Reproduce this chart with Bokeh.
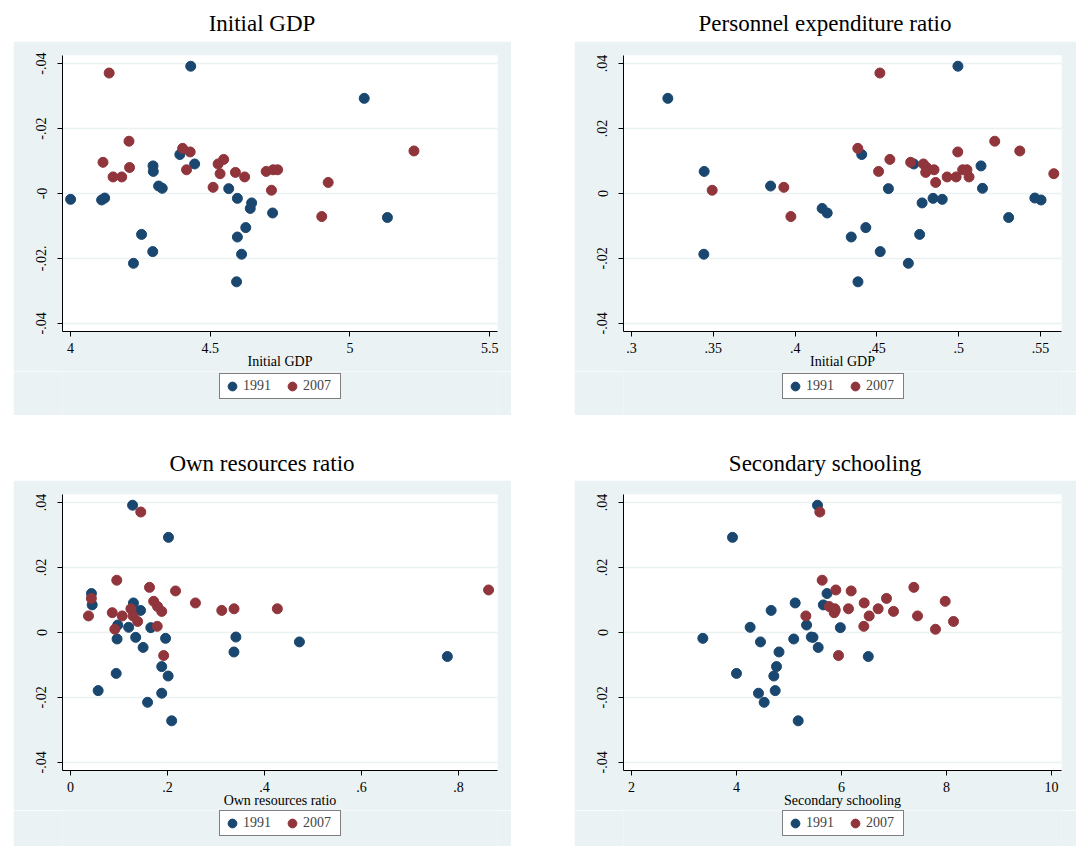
from bokeh.plotting import figure
from bokeh.models import Range1d, FixedTicker, Legend, LegendItem, Div
from bokeh.core.properties import value
from bokeh.layouts import column, row
from bokeh.embed import file_html
from bokeh.resources import INLINE

# ---------------- data ----------------
# residual growth (y) shared by every panel, one entry per region
y_1991 = [0.0392, 0.0293, 0.0120, 0.0091, 0.0085, 0.0068, 0.0023, 0.0016, 0.0015,
          -0.0014, -0.0015, -0.0018, -0.0020, -0.0029, -0.0046, -0.0060, -0.0074,
          -0.0105, -0.0126, -0.0134, -0.0179, -0.0187, -0.0215, -0.0272]
y_2007 = [0.0371, 0.0161, 0.0139, 0.0131, 0.0128, 0.0105, 0.0096, 0.0091, 0.0080,
          0.0073, 0.0073, 0.0073, 0.0068, 0.0065, 0.0061, 0.0051, 0.0051, 0.0051,
          0.0034, 0.0019, 0.0010, -0.0071]

gdp_1991 = [4.430, 5.051, 4.391, 4.444, 4.295, 4.296, 4.315, 4.328, 4.566, 4.122,
            4.597, 4.000, 4.111, 4.648, 4.643, 4.723, 5.134, 4.627, 4.254, 4.597,
            4.294, 4.612, 4.225, 4.594]
gdp_2007 = [4.138, 4.209, 4.401, 5.229, 4.428, 4.548, 4.116, 4.528, 4.211, 4.415,
            4.725, 4.741, 4.700, 4.590, 4.535, 4.152, 4.183, 4.623, 4.922, 4.510,
            4.719, 4.899]

pers_1991 = [0.4995, 0.3222, 0.4407, 0.4725, 0.5136, 0.3444, 0.3850, 0.5145, 0.4570,
             0.5465, 0.4843, 0.4899, 0.5503, 0.4776, 0.4165, 0.4196, 0.5305, 0.4432,
             0.4761, 0.4343, 0.4520, 0.3442, 0.4692, 0.4384]
pers_2007 = [0.4518, 0.5220, 0.4383, 0.5373, 0.4994, 0.4579, 0.4706, 0.4784, 0.4804,
             0.4849, 0.5024, 0.5050, 0.4510, 0.4798, 0.5581, 0.4929, 0.4984, 0.5063,
             0.4859, 0.3931, 0.3493, 0.3974]

own_1991 = [0.128, 0.202, 0.0432, 0.1298, 0.0447, 0.1444, 0.0974, 0.1199, 0.1656,
            0.341, 0.1344, 0.1960, 0.0960, 0.472, 0.1497, 0.337, 0.777, 0.1881,
            0.0942, 0.2013, 0.0570, 0.1881, 0.1589, 0.2086]
own_2007 = [0.1449, 0.0954, 0.1629, 0.862, 0.2166, 0.0430, 0.1715, 0.2576, 0.1795,
            0.3372, 0.4265, 0.1245, 0.3119, 0.1881, 0.0861, 0.0371, 0.1066, 0.1291,
            0.1384, 0.1788, 0.0914, 0.1921]

sec_1991 = [5.543, 3.924, 5.724, 5.118, 5.654, 4.66, 5.335, 4.260, 5.978, 5.425,
            5.457, 3.359, 5.090, 4.457, 5.556, 4.81, 6.51, 4.762, 4.0, 4.711,
            4.737, 4.419, 4.527, 5.175]
sec_2007 = [5.587, 5.632, 7.378, 5.892, 6.184, 6.857, 7.975, 6.432, 5.765, 6.133,
            6.698, 5.873, 5.88, 6.990, 5.860, 5.321, 6.527, 7.448, 8.133, 6.425,
            7.790, 5.943]

titles = ["Initial GDP", "Personnel expenditure ratio", "Own resources ratio", "Secondary schooling"]
x_titles = ["Initial GDP", "Initial GDP", "Own resources ratio", "Secondary schooling"]
series_labels = ["1991", "2007"]

y_ticks = [-0.04, -0.02, 0, 0.02, 0.04]
y_labels_gdp = ["-.04", "-.02.", "-0", "-.02", "-.04"]
y_labels_std = ["-.04", "-.02", "0", ".02", ".04"]

x_ticks_gdp = [4, 4.5, 5, 5.5]
x_labels_gdp = ["4", "4.5", "5", "5.5"]
x_ticks_pers = [0.3, 0.35, 0.4, 0.45, 0.5, 0.55]
x_labels_pers = [".3", ".35", ".4", ".45", ".5", ".55"]
x_ticks_own = [0, 0.2, 0.4, 0.6, 0.8]
x_labels_own = ["0", ".2", ".4", ".6", ".8"]
x_ticks_sec = [2, 4, 6, 8, 10]
x_labels_sec = ["2", "4", "6", "8", "10"]

# ---------------- style ----------------
BG = "#eaf2f3"
BLUE = "#1a476f"
RED = "#90353b"
FONT = "Liberation Serif"
FRAME_H = 276
MAIN_H = 330


def panel(x91, y91, x07, y07, xr, xticks, xlabels, ylabels, xtitle,
          width, border_right, margin_left, leg_h, leg_x, leg_y):
    p = figure(width=width, height=MAIN_H,
               x_range=Range1d(*xr), y_range=Range1d(-0.0425, 0.0425),
               toolbar_location=None, output_backend="svg",
               min_border_left=49, min_border_right=border_right,
               min_border_top=14, min_border_bottom=MAIN_H - 14 - FRAME_H,
               border_fill_color=BG, background_fill_color="white",
               outline_line_color=None, margin=(0, 0, 0, margin_left))
    p.scatter(x91, y91, size=10, color=BLUE)
    p.scatter(x07, y07, size=10, color=RED)

    p.xgrid.visible = False
    p.ygrid.grid_line_color = BG
    p.ygrid.grid_line_width = 1.5

    for ax in (p.xaxis[0], p.yaxis[0]):
        ax.axis_line_color = "black"
        ax.axis_line_width = 1
        ax.major_tick_line_color = "black"
        ax.major_tick_in = 0
        ax.major_tick_out = 5
        ax.minor_tick_in = 0
        ax.minor_tick_out = 0
        ax.major_label_text_font = FONT
        ax.major_label_text_font_size = "14px"
        ax.major_label_text_color = "black"
        ax.axis_label_text_font = FONT
        ax.axis_label_text_font_size = "14px"
        ax.axis_label_text_font_style = "normal"
        ax.axis_label_text_color = "black"

    p.xaxis.ticker = FixedTicker(ticks=xticks)
    p.xaxis.major_label_overrides = {t: l for t, l in zip(xticks, xlabels)}
    p.xaxis.major_label_standoff = 6
    p.xaxis.axis_label = xtitle
    p.xaxis.axis_label_standoff = -2

    p.yaxis.ticker = FixedTicker(ticks=y_ticks)
    p.yaxis.major_label_overrides = {t: l for t, l in zip(y_ticks, ylabels)}
    p.yaxis.major_label_orientation = "vertical"
    p.yaxis.major_label_standoff = 11

    # legend strip below the axis (same panel background); its frame shows
    # no data (range away from the values), only the legend box
    lg = figure(width=width, height=leg_h, toolbar_location=None, output_backend="svg",
                x_range=Range1d(100, 101), y_range=Range1d(100, 101),
                min_border=0, border_fill_color=BG, background_fill_color=BG,
                outline_line_color=None, margin=(0, 0, 0, margin_left))
    lg.axis.visible = False
    lg.grid.visible = False
    k1 = lg.scatter(x91, y91, size=10, color=BLUE)
    k2 = lg.scatter(x07, y07, size=10, color=RED)
    legend = Legend(items=[LegendItem(label=value(series_labels[0]), renderers=[k1]),
                           LegendItem(label=value(series_labels[1]), renderers=[k2])],
                    orientation="horizontal", location=(leg_x, leg_y),
                    border_line_color="black", border_line_width=1,
                    background_fill_color="white", background_fill_alpha=1,
                    padding=1, spacing=2, margin=0,
                    glyph_width=22, glyph_height=22, label_standoff=0, label_width=36,
                    label_text_font=FONT, label_text_font_size="14px")
    lg.add_layout(legend)
    return column(p, lg)


def title_div(text, width, height, pad_top, line_h, margin_left):
    html = ('<div style="width:%dpx;padding-top:%dpx;text-align:center;'
            'font-family:\'Liberation Serif\';font-size:23px;line-height:%dpx;color:black;">%s</div>'
            % (width, pad_top, line_h, text))
    return Div(text=html, width=width, height=height, margin=(0, 0, 0, margin_left))


W1, W2 = 498, 502
p1 = panel(gdp_1991, y_1991, gdp_2007, y_2007, (3.971, 5.528), x_ticks_gdp, x_labels_gdp,
           y_labels_gdp, x_titles[0], W1, 14, 13, 44, 157, 16)
p2 = panel(pers_1991, y_1991, pers_2007, y_2007, (0.2951, 0.5628), x_ticks_pers, x_labels_pers,
           y_labels_std, x_titles[1], W2, 15, 63, 44, 159, 16)
p3 = panel(own_1991, y_1991, own_2007, y_2007, (-0.0165, 0.8804), x_ticks_own, x_labels_own,
           y_labels_std, x_titles[2], W1, 14, 13, 36, 157, 10)
p4 = panel(sec_1991, y_1991, sec_2007, y_2007, (1.848, 10.19), x_ticks_sec, x_labels_sec,
           y_labels_std, x_titles[3], W2, 15, 63, 36, 159, 10)

t1 = title_div(titles[0], W1, 41, 9, 30, 13)
t2 = title_div(titles[1], W2, 41, 9, 30, 63)
t3 = title_div(titles[2], W1, 65, 34, 30, 13)
t4 = title_div(titles[3], W2, 65, 34, 30, 63)

layout = column(row(t1, t2), row(p1, p2), row(t3, t4), row(p3, p4))

open("out.html", "w").write(file_html(layout, INLINE))
